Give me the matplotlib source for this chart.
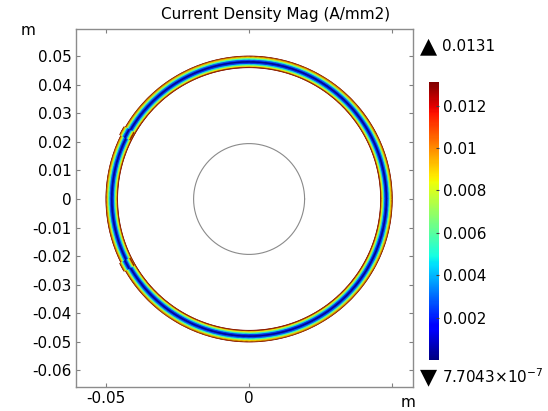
import numpy as np
import matplotlib
matplotlib.use("Agg")
from matplotlib import pyplot as plt

# radial profile of |J| across the conductor ring (m, A/mm2)
ring_r = [0.0460, 0.0465, 0.0470, 0.0475, 0.0480, 0.0485, 0.0490, 0.0495, 0.0500]
ring_j = [0.0131, 0.0086, 0.0053, 0.0024, 0.0000008, 0.0024, 0.0053, 0.0086, 0.0131]

# small kinks in the ring on the left side (deg, start/end) and their radial offset (m)
kink_deg = [(150.0, 153.5), (206.5, 210.0)]
kink_shift = 0.0005

# inner boundary circle
inner_r = 0.0194

j_min = 7.7043e-7
j_max = 0.0131

x_ticks = [-0.05, 0, 0.05]
x_labels = ["-0.05", "0", ""]
y_ticks = [0.05, 0.04, 0.03, 0.02, 0.01, 0, -0.01, -0.02, -0.03, -0.04, -0.05, -0.06]
y_labels = ["0.05", "0.04", "0.03", "0.02", "0.01", "0", "-0.01", "-0.02",
            "-0.03", "-0.04", "-0.05", "-0.06"]
cb_ticks = [0.002, 0.004, 0.006, 0.008, 0.01, 0.012]
cb_labels = ["0.002", "0.004", "0.006", "0.008", "0.01", "0.012"]

plt.rcParams["font.family"] = "DejaVu Sans"
plt.rcParams["font.size"] = 11

fig = plt.figure(figsize=(5.48, 4.11), dpi=100)
ax = fig.add_axes([0.1387, 0.0584, 0.6150, 0.8710])


def ring_patch(t0, t1, dr=0.0):
    theta = np.linspace(t0, t1, max(int(abs(t1 - t0) / np.pi * 360), 4) + 1)
    R, T = np.meshgrid(np.array(ring_r) + dr, theta)
    J = np.tile(ring_j, (len(theta), 1))
    ax.pcolormesh(R * np.cos(T), R * np.sin(T), J, shading="gouraud",
                  cmap="jet", vmin=0, vmax=j_max, rasterized=True)


ring_patch(0, 2 * np.pi)
for a0, a1 in kink_deg:
    ring_patch(np.radians(a0), np.radians(a1), kink_shift)

t = np.linspace(0, 2 * np.pi, 361)
ax.plot(inner_r * np.cos(t), inner_r * np.sin(t), color="#8a8a8a", lw=0.8)

ax.set_xlim(-0.0605, 0.0573)
ax.set_ylim(-0.0658, 0.0595)

ax.set_xticks(x_ticks)
ax.set_xticklabels(x_labels)
ax.set_yticks(y_ticks)
ax.set_yticklabels(y_labels)
ax.tick_params(direction="in", length=3, width=0.8, color="#808080",
               top=True, right=True, labelsize=11, pad=3)
for s in ax.spines.values():
    s.set_color("#8c8c8c")
    s.set_linewidth(1.0)

fig.text(0.503, 0.965, "Current Density Mag (A/mm2)", ha="center", va="center", fontsize=11)
fig.text(0.051, 0.925, "m", ha="center", va="center", fontsize=11)
fig.text(0.745, 0.020, "m", ha="center", va="center", fontsize=11)

# colour legend
cax = fig.add_axes([0.783, 0.124, 0.018, 0.676])
sm = plt.cm.ScalarMappable(cmap="jet", norm=plt.Normalize(0, j_max))
cb = fig.colorbar(sm, cax=cax)
cb.outline.set_visible(False)
cb.set_ticks(cb_ticks)
cb.set_ticklabels(cb_labels)
cax.tick_params(direction="in", length=2, width=0.8, color="#404040", labelsize=11, pad=3)

fig.text(0.766, 0.888, "\u25B2", ha="left", va="center", fontsize=16)
fig.text(0.806, 0.888, "%.4f" % j_max, ha="left", va="center", fontsize=11)
fig.text(0.766, 0.083, "\u25BC", ha="left", va="center", fontsize=16)
fig.text(0.806, 0.083, "7.7043\u00d710$^{-7}$", ha="left", va="center", fontsize=11)

fig.savefig("out.png", dpi=100)
